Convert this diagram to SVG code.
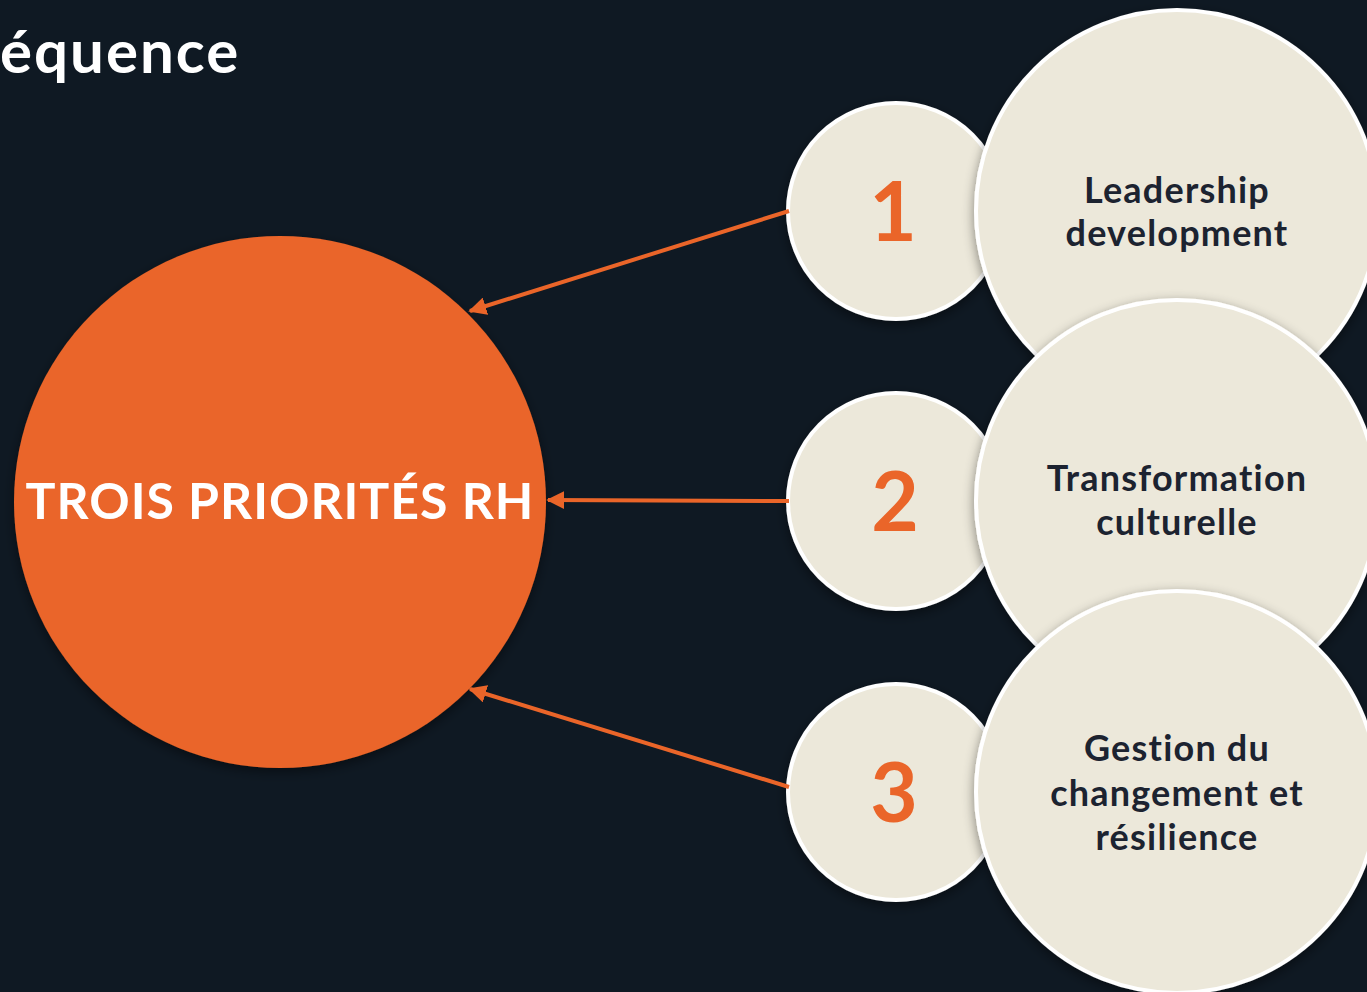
<svg xmlns="http://www.w3.org/2000/svg" width="1367" height="992" viewBox="0 0 1367 992">
<defs>
<style>
.bg{fill:#0f1923}
.small{fill:#ece8da;stroke:#ffffff;stroke-width:4}
.big{fill:#ece8da;stroke:#ffffff;stroke-width:4}
.num{font-family:Lato,"Open Sans",sans-serif;font-weight:bold;font-size:82px;fill:#ea6529;text-anchor:middle}
.lbl{font-family:Lato,"Open Sans",sans-serif;font-weight:bold;font-size:36px;letter-spacing:1.2px;fill:#1c2330;text-anchor:middle}
.conn{stroke:#ea6529;stroke-width:4;fill:none}
</style>
<marker id="ah" viewBox="0 0 10 10" refX="9" refY="5" markerWidth="4.5" markerHeight="4.5" orient="auto" markerUnits="strokeWidth">
<path d="M0,0 L10,5 L0,10 z" fill="#ea6529"/>
</marker>
<filter id="sh" x="-20%" y="-20%" width="140%" height="140%">
<feDropShadow dx="0" dy="4" stdDeviation="6" flood-color="#000" flood-opacity="0.45"/>
</filter>
</defs>
<rect class="bg" x="0" y="0" width="1367" height="992"/>
<text x="0" y="73" font-family="Lato,'Open Sans',sans-serif" font-weight="bold" font-size="60" letter-spacing="2" fill="#ffffff">équence</text>
<g id="center">
<circle cx="280" cy="502" r="266" fill="#ea6529" filter="url(#sh)"/>
<text x="280" y="519" font-family="Lato,'Open Sans',sans-serif" font-weight="bold" font-size="50" letter-spacing="1" fill="#ffffff" text-anchor="middle">TROIS PRIORITÉS RH</text>
</g>
<g id="item1">
<circle class="small" cx="896" cy="211" r="108" filter="url(#sh)"/>
<text class="num" x="893" y="241">1</text>
<circle class="big" cx="1177" cy="211" r="201" filter="url(#sh)"/>
<text class="lbl" x="1177" y="203">Leadership</text>
<text class="lbl" x="1177" y="246">development</text>
</g>
<g id="item2">
<circle class="small" cx="896" cy="501" r="108" filter="url(#sh)"/>
<text class="num" x="895" y="531">2</text>
<circle class="big" cx="1177" cy="501" r="201" filter="url(#sh)"/>
<text class="lbl" x="1177" y="491">Transformation</text>
<text class="lbl" x="1177" y="535">culturelle</text>
</g>
<g id="item3">
<circle class="small" cx="896" cy="792" r="108" filter="url(#sh)"/>
<text class="num" x="894" y="822">3</text>
<circle class="big" cx="1177" cy="792" r="201" filter="url(#sh)"/>
<text class="lbl" x="1177" y="761">Gestion du</text>
<text class="lbl" x="1177" y="806">changement et</text>
<text class="lbl" x="1177" y="850">résilience</text>
</g>
<g id="connectors">
<line class="conn" x1="789" y1="211" x2="470" y2="311" marker-end="url(#ah)"/>
<line class="conn" x1="789" y1="501" x2="548" y2="500" marker-end="url(#ah)"/>
<line class="conn" x1="789" y1="787" x2="470" y2="689" marker-end="url(#ah)"/>
</g>
</svg>
